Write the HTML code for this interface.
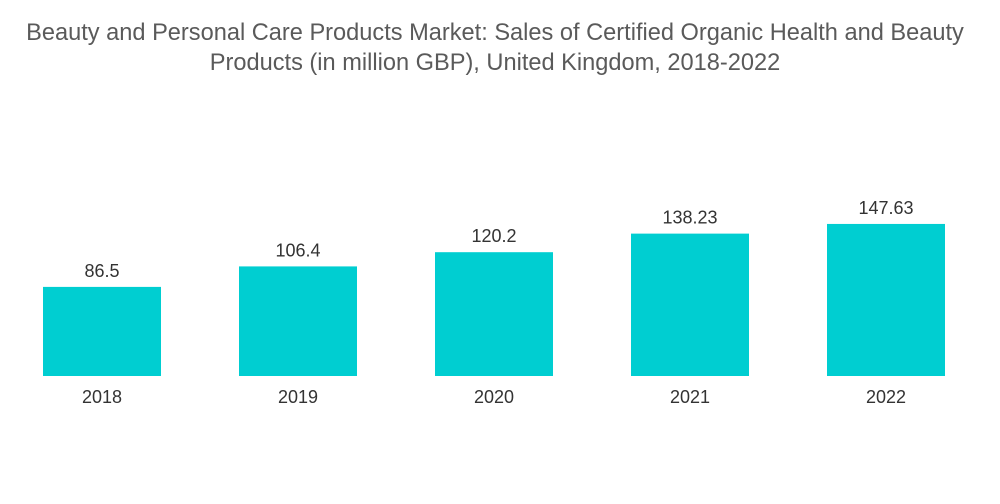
<!DOCTYPE html>
<html><head><meta charset="utf-8"><style>
body{margin:0;background:#fff;}
svg{display:block;font-family:"Liberation Sans",sans-serif;}
</style></head><body>
<svg width="1000" height="504">
<text x="495" y="40" text-anchor="middle" font-size="23.6" fill="#5a5a5a">Beauty and Personal Care Products Market: Sales of Certified Organic Health and Beauty</text>
<text x="495" y="70" text-anchor="middle" font-size="23.6" fill="#5a5a5a">Products (in million GBP), United Kingdom, 2018-2022</text>
<g id="bars"></g>
</svg>
<script>
const categories=["2018","2019","2020","2021","2022"];
const values=[86.5,106.4,120.2,138.23,147.63];
const labels=["86.5","106.4","120.2","138.23","147.63"];
const baseY=376,scale=1.03,x0=43,step=196,bw=118;
const yFor=v=>baseY-v*scale;
const xFor=i=>x0+i*step;
const g=document.getElementById('bars');
const NS="http://www.w3.org/2000/svg";
categories.forEach((c,i)=>{
  const r=document.createElementNS(NS,'rect');
  r.setAttribute('x',xFor(i));r.setAttribute('y',yFor(values[i]));
  r.setAttribute('width',bw);r.setAttribute('height',baseY-yFor(values[i]));
  r.setAttribute('fill','#00ced1');
  
  
  g.appendChild(r);
  const t=document.createElementNS(NS,'text');
  t.setAttribute('x',xFor(i)+bw/2);t.setAttribute('y',yFor(values[i])-10);
  t.setAttribute('text-anchor','middle');t.setAttribute('font-size','18');t.setAttribute('fill','#333');
  t.textContent=labels[i];
  
  
  g.appendChild(t);
  const xl=document.createElementNS(NS,'text');
  xl.setAttribute('x',xFor(i)+bw/2);xl.setAttribute('y',403);
  xl.setAttribute('text-anchor','middle');xl.setAttribute('font-size','18');xl.setAttribute('fill','#333');
  xl.textContent=c;
  
  
  g.appendChild(xl);
});
</script>
</body></html>
